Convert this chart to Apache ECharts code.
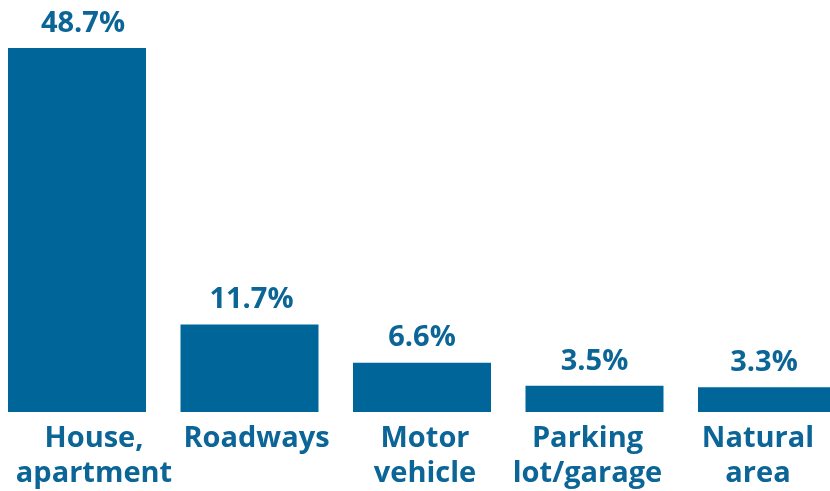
<!DOCTYPE html>
<html>
<head>
<meta charset="utf-8">
<script src="https://cdn.jsdelivr.net/npm/echarts@6/dist/echarts.min.js"></script>
<style>html,body{margin:0;padding:0;background:#fff;}#c{width:830px;height:491px;}</style>
</head>
<body>
<div id="c"></div>
<script>
const categories = ["House,\napartment", "Roadways", "Motor\nvehicle", "Parking\nlot/garage", "Natural\narea"];
const values = [48.7, 11.7, 6.6, 3.5, 3.3];
const valueLabels = ["48.7%", "11.7%", "6.6%", "3.5%", "3.3%"];

const chart = echarts.init(document.getElementById('c'), null, {renderer: 'canvas'});
const BLUE = '#006699';
const TEXT = '#0b6597';
const labelShift = [17, 7, 3, -7, -9];
const valueShift = [6, 2, 0, 0, -3];
const rich = {};
labelShift.forEach(function (s, i) {
  rich['c' + i] = {
    color: TEXT, fontFamily: 'Open Sans', fontWeight: 'bold', fontSize: 29, lineHeight: 35,
    padding: s >= 0 ? [0, 0, 0, 2 * s] : [0, -2 * s, 0, 0]
  };
});
chart.setOption({
  animation: false,
  grid: {left: -9.25, right: -23.25, top: 38.3, bottom: 79, containLabel: false, outerBoundsMode: 'none'},
  xAxis: {
    type: 'category',
    data: categories,
    axisLine: {show: false},
    axisTick: {show: false},
    axisLabel: {
      interval: 0,
      margin: 9,
      color: TEXT,
      fontFamily: 'Open Sans',
      fontWeight: 'bold',
      fontSize: 29,
      lineHeight: 35,
      hideOverlap: false,
      formatter: function (v, i) {
        return v.split('\n').map(function (l) { return '{c' + i + '|' + l + '}'; }).join('\n');
      },
      rich: rich
    }
  },
  yAxis: {type: 'value', min: 0, max: 50, show: false, splitLine: {show: false}},
  series: [{
    type: 'bar',
    data: values.map(function (v, i) { return {value: v, label: {offset: [valueShift[i], 0]}}; }),
    barWidth: 138,
    itemStyle: {color: BLUE},
    label: {
      show: true,
      position: 'top',
      distance: 10,
      color: TEXT,
      fontFamily: 'Open Sans',
      fontWeight: 'bold',
      fontSize: 29,
      formatter: function (p) { return valueLabels[p.dataIndex]; }
    }
  }]
});
</script>
</body>
</html>
